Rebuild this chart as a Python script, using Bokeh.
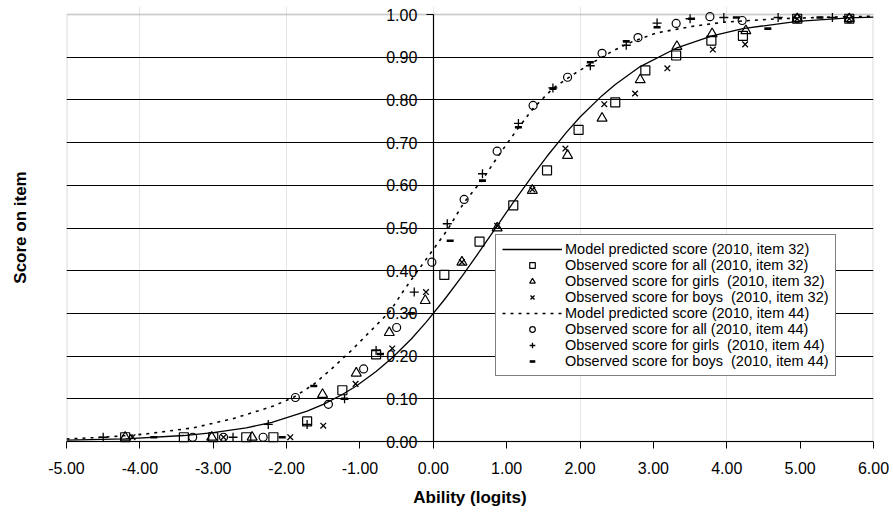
from bokeh.plotting import figure
from bokeh.models import (LinearAxis, FixedTicker, NumeralTickFormatter, Range1d,
                          Legend, LegendItem, Grid, Span, BoxAnnotation)
from bokeh.embed import file_html
from bokeh.resources import INLINE

# ---------------- data ----------------
x_ticks = [-5, -4, -3, -2, -1, 0, 1, 2, 3, 4, 5, 6]
y_ticks = [0.0, 0.1, 0.2, 0.3, 0.4, 0.5, 0.6, 0.7, 0.8, 0.9, 1.0]
grid_ticks = [0.1, 0.2, 0.3, 0.4, 0.5, 0.6, 0.7, 0.8, 0.9]

# item 32 model curve (solid)
m32_x = [-5.0, -4.2, -3.4, -3.0, -2.55, -2.2, -1.72, -1.5, -1.24, -1.05, -0.78, -0.56,
         -0.3, -0.1, 0.15, 0.4, 0.63, 0.87, 1.09, 1.35, 1.55, 1.82, 2.0, 2.3, 2.48,
         2.82, 3.31, 3.8, 4.22, 4.96, 5.67, 6.0]
m32_y = [0.003, 0.006, 0.014, 0.021, 0.032, 0.045, 0.071, 0.087, 0.110, 0.130, 0.164, 0.196,
         0.240, 0.279, 0.332, 0.389, 0.445, 0.505, 0.560, 0.622, 0.668, 0.725, 0.760, 0.810,
         0.836, 0.878, 0.921, 0.950, 0.967, 0.984, 0.992, 0.994]

# item 32 observed: all (squares)
all32_x = [-4.2, -3.4, -3.0, -2.55, -2.18, -1.72, -1.24, -0.78, 0.15, 0.63, 1.09, 1.55,
           1.98, 2.48, 2.89, 3.31, 3.79, 4.22, 4.96, 5.67]
all32_y = [0.01, 0.01, 0.01, 0.01, 0.01, 0.047, 0.12, 0.204, 0.39, 0.468, 0.553, 0.635,
           0.73, 0.794, 0.869, 0.904, 0.939, 0.95, 0.99, 0.99]

# item 32 observed: girls (triangles)
girls32_x = [-4.2, -3.02, -2.47, -1.51, -1.05, -0.6, -0.11, 0.39, 0.87, 1.35, 1.83, 2.3,
             2.82, 3.32, 3.80, 4.26, 4.96, 5.67]
girls32_y = [0.01, 0.01, 0.01, 0.11, 0.16, 0.255, 0.33, 0.42, 0.50, 0.588, 0.67, 0.757,
             0.847, 0.925, 0.955, 0.962, 0.99, 0.99]

# item 32 observed: boys (x)
boys32_x = [-4.1, -2.86, -1.95, -1.5, -1.06, -0.56, -0.1, 0.39, 0.87, 1.35, 1.80, 2.33,
            2.75, 3.19, 3.81, 4.25, 4.96, 5.67]
boys32_y = [0.01, 0.01, 0.01, 0.037, 0.135, 0.218, 0.35, 0.42, 0.505, 0.59, 0.686, 0.79,
            0.815, 0.874, 0.918, 0.93, 0.99, 0.99]

# item 44 model curve (dotted)
m44_x = [-5.0, -4.5, -3.95, -3.27, -2.72, -2.18, -1.9, -1.63, -1.4, -1.13, -0.86, -0.59,
         -0.41, -0.22, -0.08, 0.19, 0.42, 0.67, 0.87, 1.14, 1.36, 1.63, 1.91, 2.18, 2.45,
         2.72, 3.05, 3.52, 3.96, 4.7, 5.44, 6.0]
m44_y = [0.006, 0.010, 0.017, 0.032, 0.054, 0.083, 0.104, 0.134, 0.168, 0.211, 0.258, 0.305,
         0.352, 0.398, 0.431, 0.495, 0.56, 0.613, 0.665, 0.73, 0.78, 0.827, 0.86, 0.888,
         0.915, 0.937, 0.957, 0.972, 0.982, 0.99, 0.994, 0.996]

# item 44 observed: all (circles)
all44_x = [-3.28, -2.86, -2.32, -1.88, -1.43, -0.95, -0.5, -0.02, 0.42, 0.87, 1.36, 1.83,
           2.3, 2.79, 3.31, 3.77, 4.21, 4.96, 5.67]
all44_y = [0.01, 0.01, 0.01, 0.103, 0.087, 0.17, 0.267, 0.42, 0.567, 0.68, 0.787, 0.853,
           0.909, 0.946, 0.979, 0.995, 0.986, 0.99, 0.99]

# item 44 observed: girls (+)
girls44_x = [-4.5, -2.73, -2.25, -1.72, -1.21, -0.78, -0.26, 0.19, 0.67, 1.16, 1.63, 2.14,
             2.63, 3.05, 3.5, 3.96, 4.7, 5.44]
girls44_y = [0.01, 0.01, 0.04, 0.04, 0.10, 0.213, 0.35, 0.51, 0.627, 0.745, 0.828, 0.88,
             0.928, 0.98, 0.99, 0.993, 0.993, 0.993]

# item 44 observed: boys (-)
boys44_x = [-3.81, -2.06, -1.63, -1.21, -0.72, -0.3, 0.23, 0.67, 1.16, 1.63, 2.14, 2.63,
            3.05, 3.52, 4.13, 4.56, 5.27]
boys44_y = [0.01, 0.01, 0.13, 0.10, 0.205, 0.30, 0.47, 0.611, 0.736, 0.826, 0.888, 0.937,
            0.97, 0.99, 0.993, 0.967, 0.993]

labels = [
    "Model predicted score (2010, item 32)",
    "Observed score for all (2010, item 32)",
    "Observed score for girls \u00a0(2010, item 32)",
    "Observed score for boys \u00a0(2010, item 32)",
    "Model predicted score (2010, item 44)",
    "Observed score for all (2010, item 44)",
    "Observed score for girls \u00a0(2010, item 44)",
    "Observed score for boys \u00a0(2010, item 44)",
]

FONT = "Liberation Sans"

# value range 0..1 maps to 427 px; the frame is padded by 8 px above / 7 px below
PX = 427.0
p = figure(width=893, height=522, x_range=Range1d(-5, 6),
           y_range=Range1d(-7 / PX, 1 + 8 / PX),
           output_backend="svg", toolbar_location=None,
           x_axis_location=None, y_axis_location=None,
           min_border_left=66, min_border_right=20, min_border_top=6, min_border_bottom=74)
p.outline_line_color = None
p.background_fill_color = "white"
p.border_fill_color = "white"

# grey plot-area border
p.add_layout(BoxAnnotation(left=-5, right=6, bottom=0, top=1, fill_color=None,
                           line_color="#888888", line_width=2, level="underlay"))

# horizontal grid lines
yg = Grid(dimension=1, ticker=FixedTicker(ticks=grid_ticks), grid_line_color="black",
          grid_line_width=1.2)
p.add_layout(yg)

# x axis line at y = 0
p.add_layout(Span(location=0, dimension="width", line_color="black", line_width=1.2))

# x axis ticks / labels (ticks rise from the frame bottom up to y = 0)
xa = LinearAxis(ticker=FixedTicker(ticks=x_ticks, minor_ticks=[]),
                formatter=NumeralTickFormatter(format="0.00"),
                axis_label="Ability (logits)")
xa.axis_line_color = None
xa.major_tick_out = 0
xa.major_tick_in = 7
xa.major_tick_line_color = "black"
xa.major_label_text_font = FONT
xa.major_label_text_font_size = "16px"
xa.major_label_text_color = "black"
xa.major_label_standoff = 13
xa.axis_label_text_font = FONT
xa.axis_label_text_font_style = "bold"
xa.axis_label_text_font_size = "17px"
xa.axis_label_text_color = "black"
xa.axis_label_standoff = 11
p.add_layout(xa, "below")

# y axis located at x = 0
ya = LinearAxis(ticker=FixedTicker(ticks=y_ticks, minor_ticks=[]),
                formatter=NumeralTickFormatter(format="0.00"), fixed_location=0,
                bounds=(0, 1))
ya.axis_line_color = "black"
ya.axis_line_width = 1.2
ya.major_tick_out = 7
ya.major_tick_in = 0
ya.major_tick_line_color = "black"
ya.major_label_text_font = FONT
ya.major_label_text_font_size = "16px"
ya.major_label_text_color = "black"
ya.major_label_standoff = 9
p.add_layout(ya, "left")

# y axis title only
yt = LinearAxis(ticker=FixedTicker(ticks=[], minor_ticks=[]), axis_label="Score on item")
yt.axis_line_color = None
yt.major_tick_out = 0
yt.major_tick_in = 0
yt.major_label_standoff = 0
yt.axis_label_text_font = FONT
yt.axis_label_text_font_style = "bold"
yt.axis_label_text_font_size = "17px"
yt.axis_label_text_color = "black"
yt.axis_label_standoff = 37
p.add_layout(yt, "left")

r_m32 = p.line(m32_x, m32_y, line_color="black", line_width=1.3)
r_all32 = p.scatter(all32_x, all32_y, marker="square", size=9, fill_color=None,
                    line_color="black", line_width=1.2)
r_g32 = p.scatter(girls32_x, girls32_y, marker="triangle", size=10, fill_color=None,
                  line_color="black", line_width=1.2)
r_b32 = p.scatter(boys32_x, boys32_y, marker="x", size=8, line_color="black", line_width=1.3)
r_m44 = p.line(m44_x, m44_y, line_color="black", line_width=1.6, line_dash="3 5")
r_all44 = p.scatter(all44_x, all44_y, marker="circle", size=8, fill_color=None,
                    line_color="black", line_width=1.2)
r_g44 = p.scatter(girls44_x, girls44_y, marker="cross", size=9, line_color="black",
                  line_width=1.3)
r_b44 = p.scatter(boys44_x, boys44_y, marker="dash", size=7, line_color="black",
                  line_width=2.6)

rends = [r_m32, r_all32, r_g32, r_b32, r_m44, r_all44, r_g44, r_b44]
items = [LegendItem(label=l, renderers=[r]) for l, r in zip(labels, rends)]
leg = Legend(items=items, location=(429, 72))
leg.border_line_color = "black"
leg.border_line_width = 1
leg.background_fill_color = "white"
leg.background_fill_alpha = 1.0
leg.label_text_font = FONT
leg.label_text_font_size = "14.5px"
leg.label_text_color = "black"
leg.glyph_width = 60
leg.glyph_height = 14
leg.label_height = 14
leg.label_standoff = 3
leg.spacing = 0
leg.padding = 6
leg.margin = 0
p.add_layout(leg, "center")

open("out.html", "w").write(file_html(p, INLINE))
